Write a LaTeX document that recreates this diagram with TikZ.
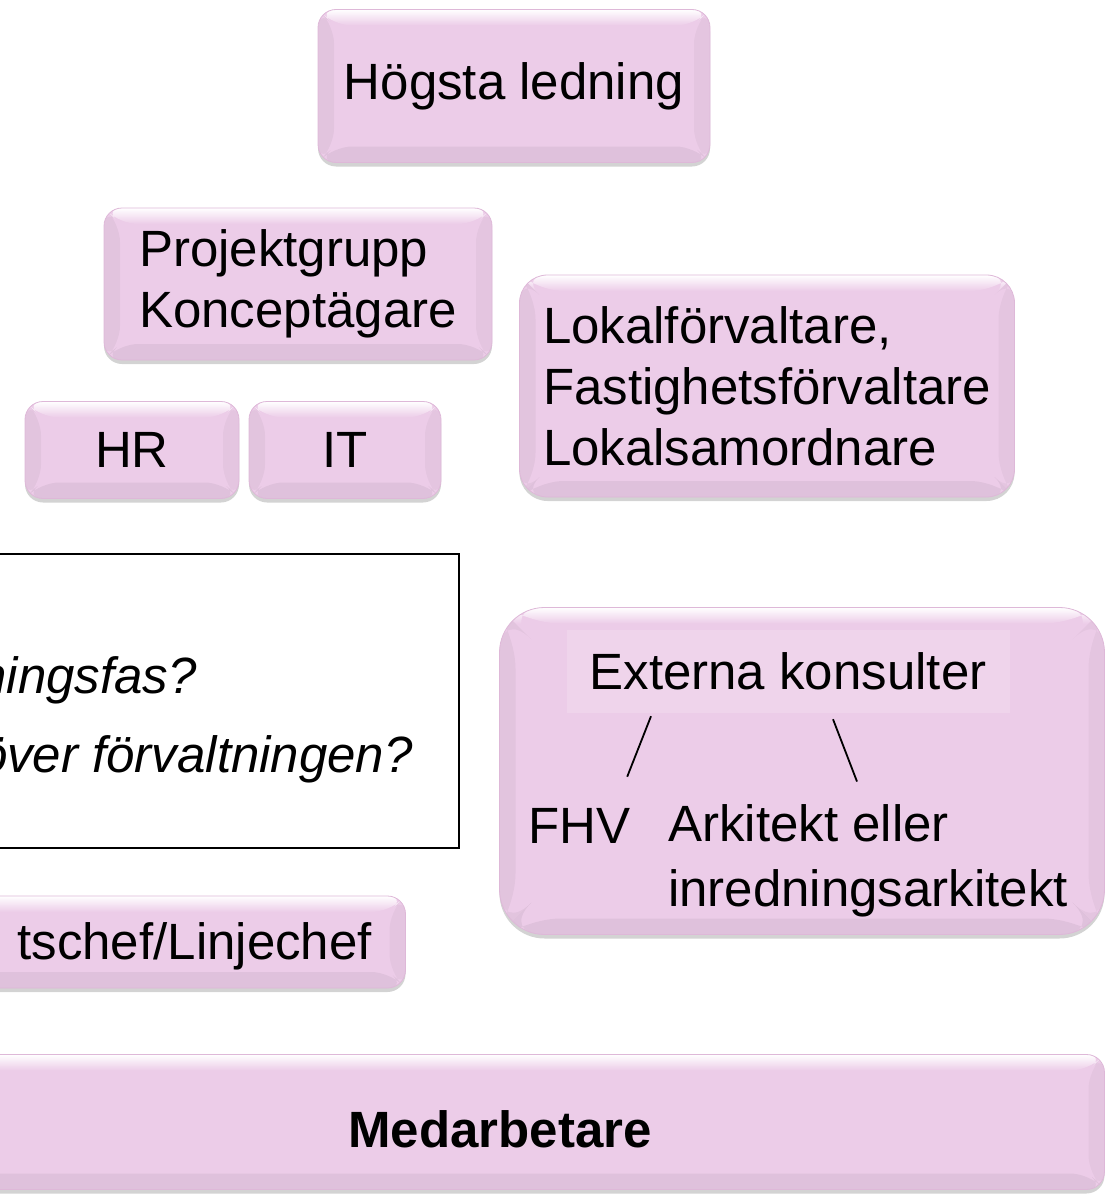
\documentclass[tikz,border=0pt]{standalone}
\usepackage{fontspec}
\setmainfont{Liberation Sans}
\usetikzlibrary{shadows,calc,positioning}
\definecolor{boxpink}{RGB}{236,204,232}
\definecolor{boxedge}{RGB}{222,184,216}

\begin{document}
\begin{tikzpicture}[x=1pt, y=-1pt,
  every node/.style={font=\fontsize{51}{61}\selectfont, inner sep=0pt},
  bevelbox/.style={draw=boxedge, line width=0.8pt, fill=boxpink, rounded corners=18pt,
    drop shadow={shadow xshift=0pt, shadow yshift=-4pt, opacity=0.35},
    path picture={
      \coordinate (bnw) at (path picture bounding box.north west);
      \coordinate (bne) at (path picture bounding box.north east);
      \coordinate (bsw) at (path picture bounding box.south west);
      \coordinate (bse) at (path picture bounding box.south east);
      \shade[top color=white, bottom color=boxpink]
        (bnw) -- (bne) -- ([shift={(-16pt,-16pt)}]bne) -- ([shift={(16pt,-16pt)}]bnw) -- cycle;
      \fill[black, opacity=0.04]
        (bnw) -- ([shift={(16pt,-16pt)}]bnw) -- ([shift={(16pt,16pt)}]bsw) -- (bsw) -- cycle;
      \fill[black, opacity=0.03]
        (bne) -- ([shift={(-16pt,-16pt)}]bne) -- ([shift={(-16pt,16pt)}]bse) -- (bse) -- cycle;
      \fill[black, opacity=0.05]
        (bsw) -- ([shift={(16pt,16pt)}]bsw) -- ([shift={(-16pt,16pt)}]bse) -- (bse) -- cycle;
    }},
  slash/.style={line width=1.8pt}]
  \useasboundingbox (0,0) rectangle (1108,1199);

  % upper part
  \node[bevelbox, minimum width=392pt, minimum height=153pt] (hogsta) at (514,86) {Högsta ledning};
  \node[bevelbox, minimum width=388pt, minimum height=152pt, align=left] (projekt) at (298,284) {Projektgrupp\\Konceptägare};
  \node[bevelbox, minimum width=214pt, minimum height=97pt] (hr) at (132,450) {HR};
  \node[bevelbox, minimum width=192pt, minimum height=97pt] (it) at (345,450) {IT};
  \node[bevelbox, rounded corners=28pt, minimum width=495pt, minimum height=222pt, align=left] (lokal) at (767,386) {Lokalförvaltare,\\Fastighetsförvaltare\\Lokalsamordnare};

  % question box
  \node[draw=black, line width=1.2pt, fill=white, minimum width=480pt, minimum height=294pt] (fragor) at (219,701) {};
  \node[anchor=base east, font=\fontsize{51}{61}\selectfont\itshape] (fraga1) at (197,693) {ningsfas?};
  \node[anchor=base east, font=\fontsize{51}{61}\selectfont\itshape] (fraga2) at (413,772) {över förvaltningen?};

  % consultants
  \node[bevelbox, rounded corners=45pt, minimum width=605pt, minimum height=327pt] (extbox) at (802,771) {};
  \node[fill=boxpink!85!white, minimum width=443pt, minimum height=83pt] (ext) at (788,671) {Externa konsulter};
  \node[anchor=base west] (fhv) at (528,843) {FHV};
  \node[anchor=west, align=left, font=\fontsize{51}{65}\selectfont] (ark) at (668,861) {Arkitekt eller\\inredningsarkitekt};
  \draw[slash] ([shift={(-137pt,-3.5pt)}]ext.south) -- ([shift={(48pt,31pt)}]fhv.north);
  \draw[slash] ([shift={(45pt,-6.5pt)}]ext.south) -- ([shift={(189pt,23pt)}]ark.north west);

  % lower part
  \node[bevelbox, minimum width=445pt, minimum height=92pt] (linje) at (183,942) {};
  \node[anchor=base east] (linjetxt) at (372,959) {tschef/Linjechef};
  \node[bevelbox, minimum width=1145pt, minimum height=135pt] (medarb) at (532,1122) {};
  \node[anchor=base, font=\fontsize{51}{61}\selectfont\bfseries] (medtxt) at (500,1147) {Medarbetare};
\end{tikzpicture}
\end{document}
